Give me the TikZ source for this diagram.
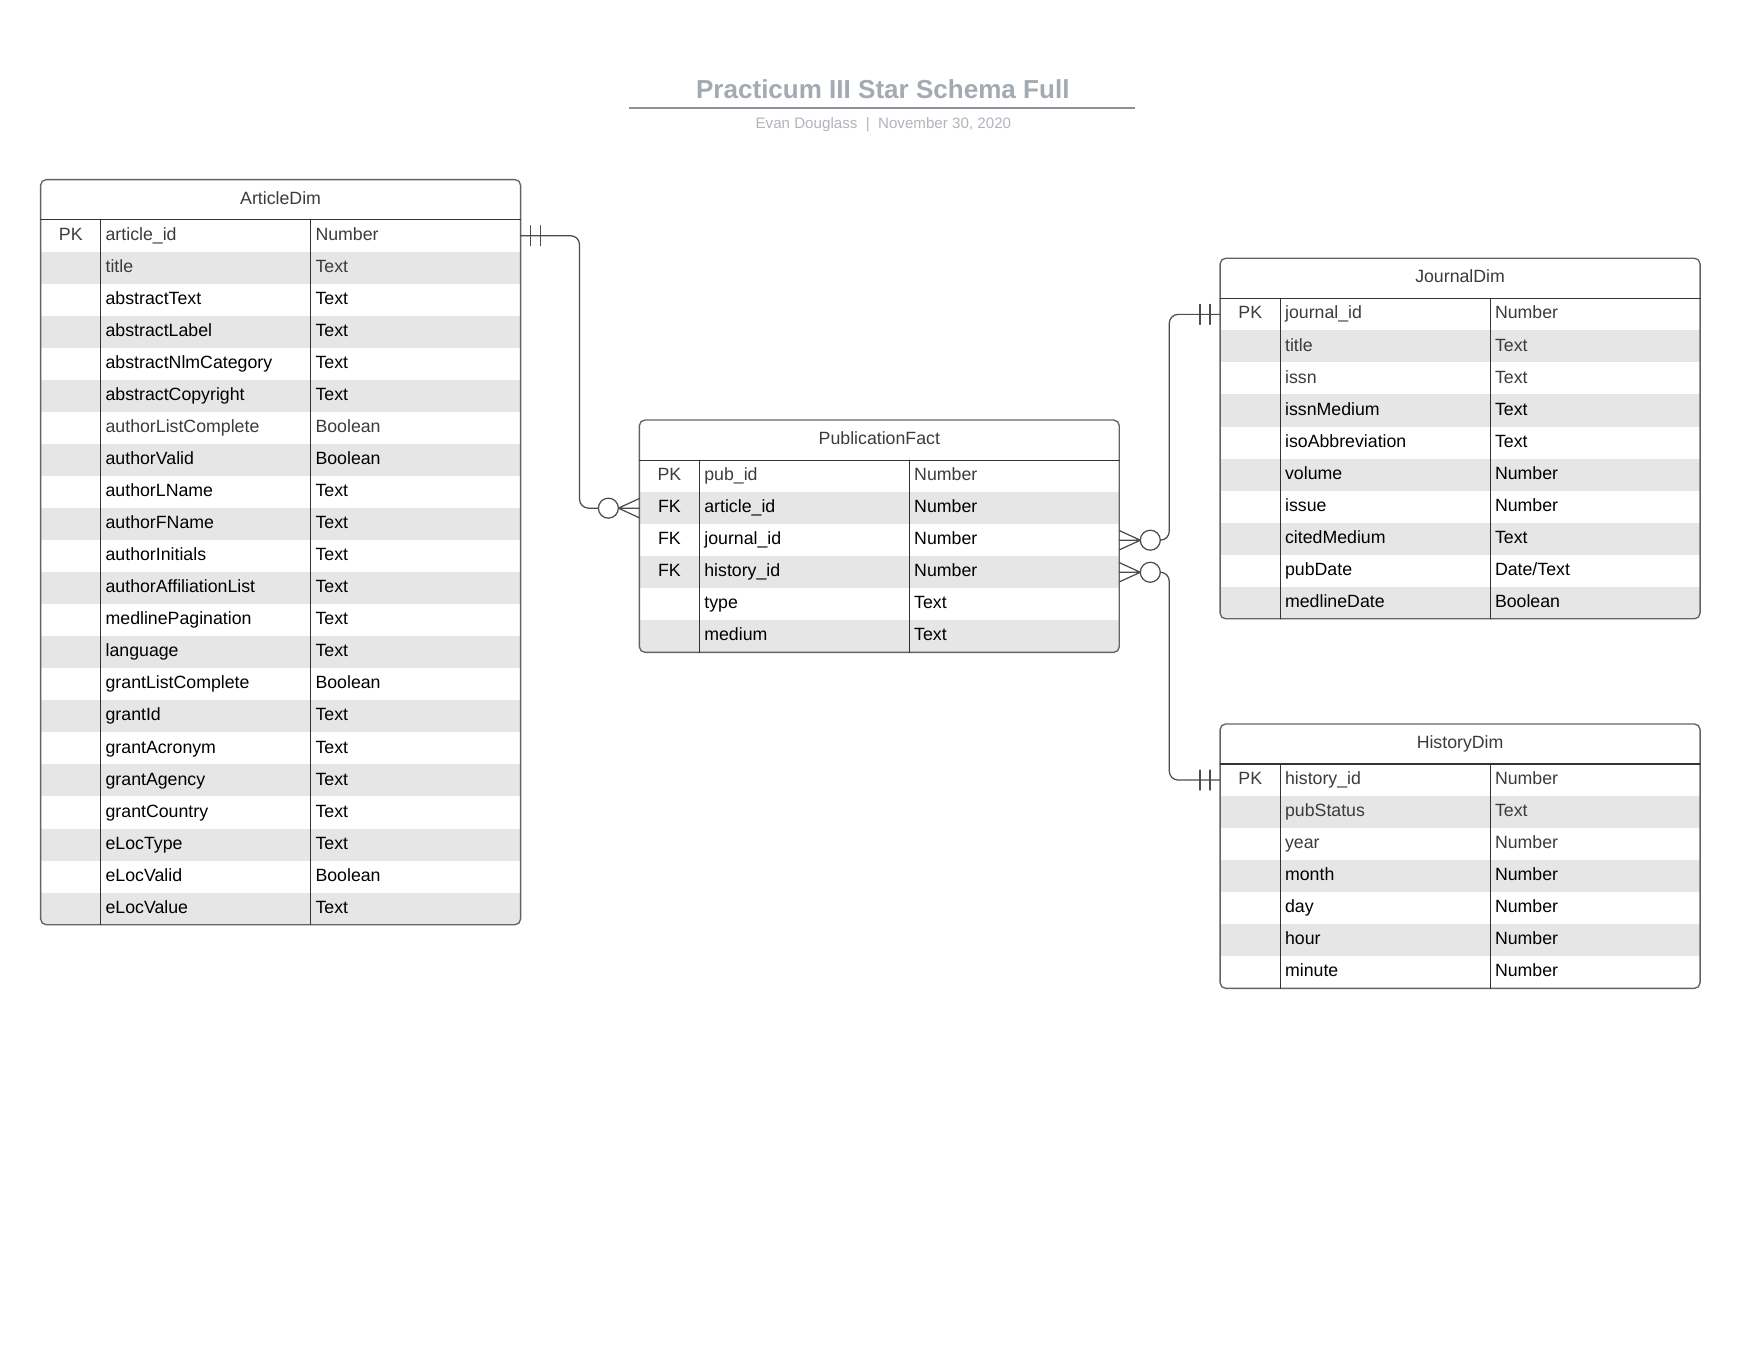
\documentclass[tikz,border=0pt]{standalone}
\usepackage{fontspec}
\setmainfont{Liberation Sans}
\definecolor{rowgray}{HTML}{E6E6E6}
\definecolor{dk}{HTML}{3B3B3B}
\definecolor{framegray}{HTML}{646464}
\definecolor{titlegray}{HTML}{A4AAB2}
\definecolor{subgray}{HTML}{B0B5BC}
\tikzset{
  cell/.style={anchor=west,inner sep=0pt,text height=11.6pt,text depth=3.4pt,font=\fontsize{15.8}{19}\selectfont},
  key/.style={cell,anchor=center},
  head/.style={key,text=dk},
  box/.style={draw=framegray,line width=1.2pt,rounded corners=5pt},
  grid/.style={draw=black!80,line width=1pt},
  link/.style={draw=black!70,line width=1.1pt},
}
\begin{document}
\begin{tikzpicture}[x=1pt,y=-1pt,line join=round,line cap=round,
  declare function={bw=427.6;hh=35.7;rh=28.55;ca=53.7;cb=240.7;}]
\fill[white] (0,0) rectangle (1568,1212);
\useasboundingbox (0,0) rectangle (1568,1212);
% title
\node[text=titlegray,font=\fontsize{23.2}{28}\selectfont\bfseries] (title) at (786.5,79.5) {Practicum III Star Schema Full};
\draw[titlegray!85!black,line width=2pt,line cap=butt] (560,96) -- (1011,96);
\node[text=subgray,font=\fontsize{13.5}{16}\selectfont,text height=9.7pt,text depth=2.8pt] (sub) at (787,111) {Evan Douglass\hspace{.55em}|\hspace{.55em}November 30, 2020};
% ArticleDim
\begin{scope}[shift={(36.2,160)}]
\begin{scope}
\clip[rounded corners=5pt] (0,0) rectangle (bw,{hh+22*rh});
\foreach \k/\n/\t/\c [count=\i] in {PK/article\_id/Number/dk,/title/Text/dk,/abstractText/Text/black,
  /abstractLabel/Text/black,/abstractNlmCategory/Text/black,/abstractCopyright/Text/black,
  /authorListComplete/Boolean/dk,/authorValid/Boolean/black,/authorLName/Text/black,
  /authorFName/Text/black,/authorInitials/Text/black,/authorAffiliationList/Text/black,
  /medlinePagination/Text/black,/language/Text/black,/grantListComplete/Boolean/black,
  /grantId/Text/black,/grantAcronym/Text/black,/grantAgency/Text/black,/grantCountry/Text/black,
  /eLocType/Text/black,/eLocValid/Boolean/black,/eLocValue/Text/black}{
  \ifodd\i\relax\else\fill[rowgray] (0,{hh+(\i-1)*rh}) rectangle (bw,{hh+\i*rh});\fi
  \node[key,text=\c] (art-k\i) at (ca/2,{hh+(\i-.5)*rh}) {\k};
  \node[cell,text=\c] (art-n\i) at (ca+4,{hh+(\i-.5)*rh}) {\n};
  \node[cell,text=\c] (art-t\i) at (cb+4,{hh+(\i-.5)*rh}) {\t};
  \coordinate (art-\i-w) at (0,{hh+(\i-.5)*rh});
  \coordinate (art-\i-e) at (bw,{hh+(\i-.5)*rh});
}
\end{scope}
\draw[box] (0,0) rectangle (bw,{hh+22*rh});
\draw[grid] (0,hh) -- (bw,hh) (ca,hh) -- (ca,{hh+22*rh}) (cb,hh) -- (cb,{hh+22*rh});
\node[head] (art) at (bw/2,hh/2) {ArticleDim};
\end{scope}
% PublicationFact
\begin{scope}[shift={(569.6,374.2)}]
\begin{scope}
\clip[rounded corners=5pt] (0,0) rectangle (bw,{hh+6*rh});
\foreach \k/\n/\t/\c [count=\i] in {PK/pub\_id/Number/dk,FK/article\_id/Number/black,
  FK/journal\_id/Number/black,FK/history\_id/Number/black,/type/Text/black,/medium/Text/black}{
  \ifodd\i\relax\else\fill[rowgray] (0,{hh+(\i-1)*rh}) rectangle (bw,{hh+\i*rh});\fi
  \node[key,text=\c] (fact-k\i) at (ca/2,{hh+(\i-.5)*rh}) {\k};
  \node[cell,text=\c] (fact-n\i) at (ca+4,{hh+(\i-.5)*rh}) {\n};
  \node[cell,text=\c] (fact-t\i) at (cb+4,{hh+(\i-.5)*rh}) {\t};
  \coordinate (fact-\i-w) at (0,{hh+(\i-.5)*rh});
  \coordinate (fact-\i-e) at (bw,{hh+(\i-.5)*rh});
}
\end{scope}
\draw[box] (0,0) rectangle (bw,{hh+6*rh});
\draw[grid] (0,hh) -- (bw,hh) (ca,hh) -- (ca,{hh+6*rh}) (cb,hh) -- (cb,{hh+6*rh});
\node[head] (fact) at (bw/2,hh/2) {PublicationFact};
\end{scope}
% JournalDim
\begin{scope}[shift={(1087,230.1)}]
\begin{scope}
\clip[rounded corners=5pt] (0,0) rectangle (bw,{hh+10*rh});
\foreach \k/\n/\t/\c [count=\i] in {PK/journal\_id/Number/dk,/title/Text/dk,/issn/Text/dk,
  /issnMedium/Text/black,/isoAbbreviation/Text/black,/volume/Number/black,/issue/Number/black,
  /citedMedium/Text/black,/pubDate/{Date/Text}/black,/medlineDate/Boolean/black}{
  \ifodd\i\relax\else\fill[rowgray] (0,{hh+(\i-1)*rh}) rectangle (bw,{hh+\i*rh});\fi
  \node[key,text=\c] (jour-k\i) at (ca/2,{hh+(\i-.5)*rh}) {\k};
  \node[cell,text=\c] (jour-n\i) at (ca+4,{hh+(\i-.5)*rh}) {\n};
  \node[cell,text=\c] (jour-t\i) at (cb+4,{hh+(\i-.5)*rh}) {\t};
  \coordinate (jour-\i-w) at (0,{hh+(\i-.5)*rh});
}
\end{scope}
\draw[box] (0,0) rectangle (bw,{hh+10*rh});
\draw[grid] (0,hh) -- (bw,hh) (ca,hh) -- (ca,{hh+10*rh}) (cb,hh) -- (cb,{hh+10*rh});
\node[head] (jour) at (bw/2,hh/2) {JournalDim};
\end{scope}
% HistoryDim
\begin{scope}[shift={(1087,645)}]
\begin{scope}
\clip[rounded corners=5pt] (0,0) rectangle (bw,{hh+7*rh});
\foreach \k/\n/\t/\c [count=\i] in {PK/history\_id/Number/dk,/pubStatus/Text/dk,/year/Number/dk,
  /month/Number/black,/day/Number/black,/hour/Number/black,/minute/Number/black}{
  \ifodd\i\relax\else\fill[rowgray] (0,{hh+(\i-1)*rh}) rectangle (bw,{hh+\i*rh});\fi
  \node[key,text=\c] (hist-k\i) at (ca/2,{hh+(\i-.5)*rh}) {\k};
  \node[cell,text=\c] (hist-n\i) at (ca+4,{hh+(\i-.5)*rh}) {\n};
  \node[cell,text=\c] (hist-t\i) at (cb+4,{hh+(\i-.5)*rh}) {\t};
  \coordinate (hist-\i-w) at (0,{hh+(\i-.5)*rh});
}
\end{scope}
\draw[box] (0,0) rectangle (bw,{hh+7*rh});
\draw[grid] (0,hh) -- (bw,hh) (ca,hh) -- (ca,{hh+7*rh}) (cb,hh) -- (cb,{hh+7*rh});
\node[head] (hist) at (bw/2,hh/2) {HistoryDim};
\end{scope}
% relationships
\draw[link,rounded corners=8pt] (art-1-e) -- ++(52.5,0) |- ([xshift=-36.5pt]fact-2-w);
\draw[link,rounded corners=8pt] ([xshift=36.5pt]fact-3-e) -- ++(8,0) |- (jour-1-w);
\draw[link,rounded corners=8pt] ([xshift=36.5pt]fact-4-e) -- ++(8,0) |- (hist-1-w);
\foreach \s in {9,18}{
  \draw[link] ([xshift=\s pt,yshift=8.9pt]art-1-e) -- ([xshift=\s pt,yshift=-8.9pt]art-1-e);
  \draw[link] ([xshift=-\s pt,yshift=8.9pt]jour-1-w) -- ([xshift=-\s pt,yshift=-8.9pt]jour-1-w);
  \draw[link] ([xshift=-\s pt,yshift=8.9pt]hist-1-w) -- ([xshift=-\s pt,yshift=-8.9pt]hist-1-w);
}
\draw[link] ([yshift=8.6pt]fact-2-w) -- ([xshift=-18.7pt]fact-2-w) -- ([yshift=-8.6pt]fact-2-w)
  (fact-2-w) -- ([xshift=-18.7pt]fact-2-w);
\draw[link,fill=white] ([xshift=-27.6pt]fact-2-w) circle (8.9pt);
\foreach \r in {3,4}{
  \draw[link] ([yshift=8.6pt]fact-\r-e) -- ([xshift=18.7pt]fact-\r-e) -- ([yshift=-8.6pt]fact-\r-e)
    (fact-\r-e) -- ([xshift=18.7pt]fact-\r-e);
  \draw[link,fill=white] ([xshift=27.6pt]fact-\r-e) circle (8.9pt);
}
\end{tikzpicture}
\end{document}
